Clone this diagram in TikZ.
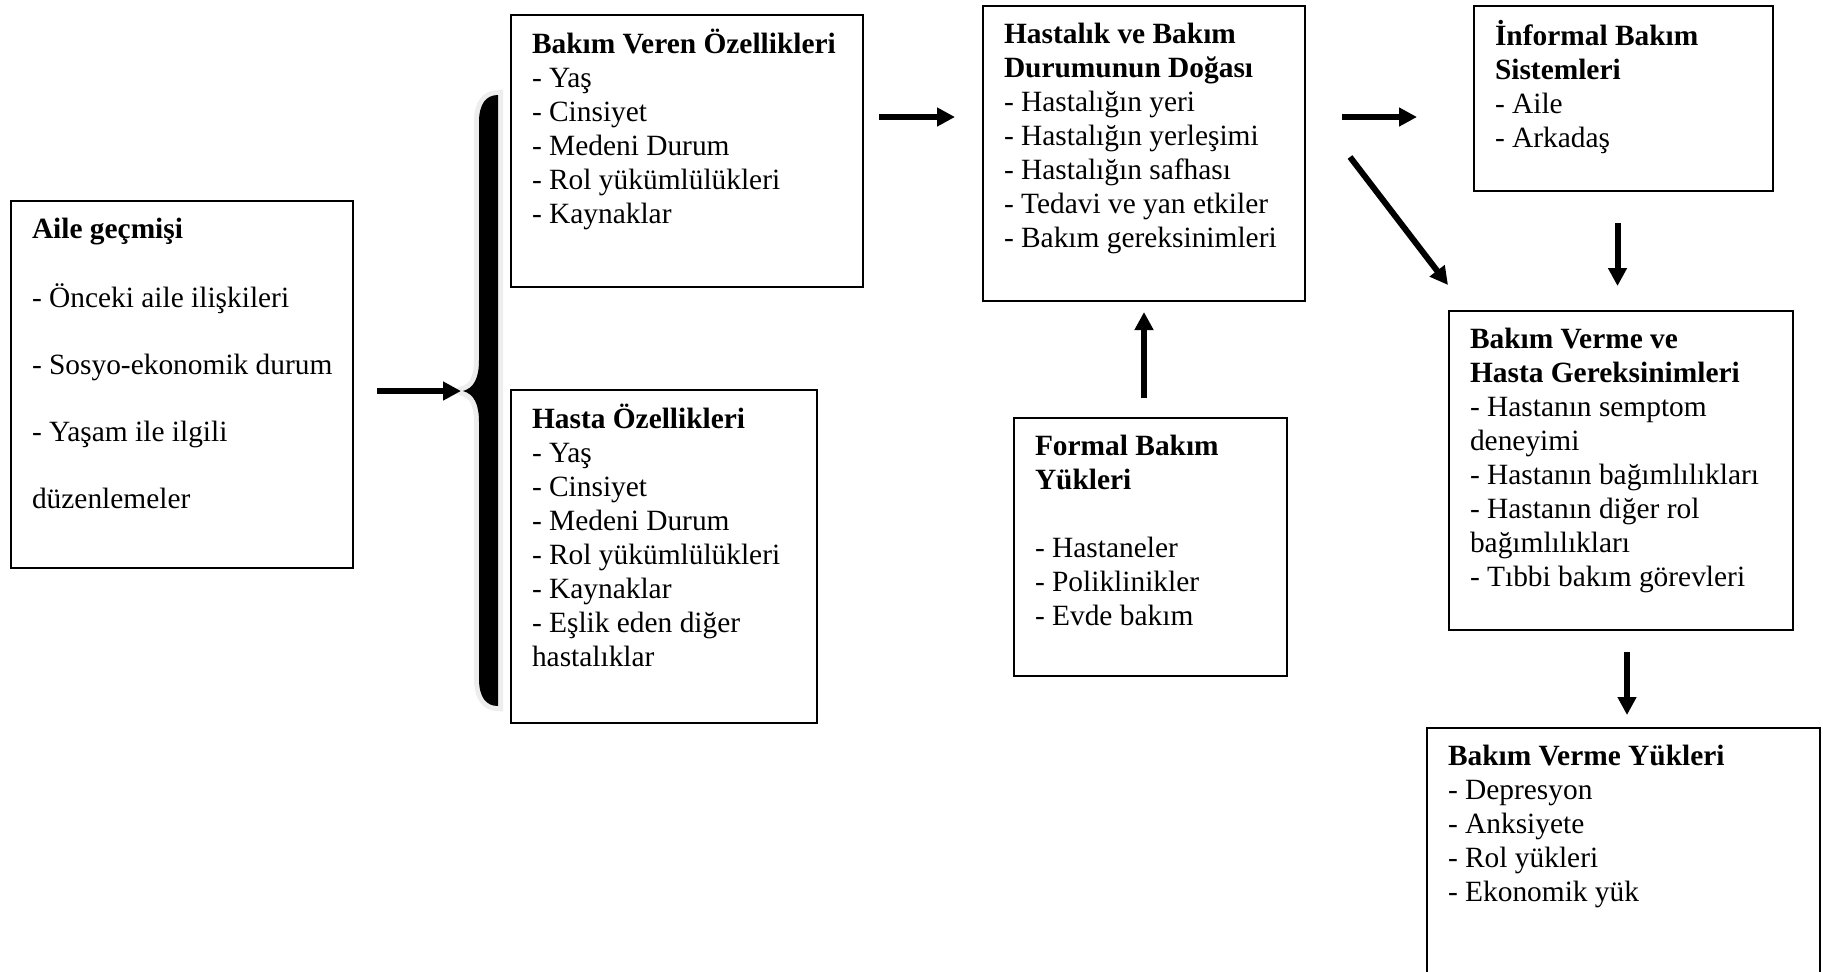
\documentclass[tikz,border=0pt]{standalone}
\usepackage{fontspec}
\setmainfont{Liberation Serif}
\usetikzlibrary{arrows.meta}
\newcommand{\metin}{\fontsize{14.7pt}{17pt}\selectfont}
\newcommand{\kutuyazi}[3]{\parbox[c][#2][t]{#1}{\raggedright\leftskip=6.5pt\strut#3}}
\begin{document}
\begin{tikzpicture}[x=0.5pt,y=-0.5pt]
	% bicimler
	\tikzstyle{kutu} = [draw, line width=1pt, rectangle, anchor=north west, outer sep=0pt, inner xsep=4pt, inner ysep=7pt, font=\metin]
	\tikzstyle{ok} = [-{Triangle[length=9pt,width=9pt]}, line width=3pt]
	\useasboundingbox (0,0) rectangle (1823,971);
	\clip (0,0) rectangle (1823,971);
	% kutular
	\node [kutu] (aile) at (11,201)
	{\kutuyazi{163pt}{169.5pt}{\textbf{Aile geçmişi}\\[16.5pt]- Önceki aile ilişkileri\\[16.5pt]- Sosyo-ekonomik durum\\[16.5pt]- Yaşam ile ilgili\\[16.5pt]düzenlemeler}};
	\node [kutu] (veren) at (511,15)
	{\kutuyazi{168pt}{122pt}{\textbf{Bakım Veren Özellikleri}\\- Yaş\\- Cinsiyet\\- Medeni Durum\\- Rol yükümlülükleri\\- Kaynaklar}};
	\node [kutu] (hasta) at (511,390)
	{\kutuyazi{145pt}{152.5pt}{\textbf{Hasta Özellikleri}\\- Yaş\\- Cinsiyet\\- Medeni Durum\\- Rol yükümlülükleri\\- Kaynaklar\\- Eşlik eden diğer\\hastalıklar}};
	\node [kutu] (doga) at (983,6)
	{\kutuyazi{153pt}{133.5pt}{\textbf{Hastalık ve Bakım\\Durumunun Doğası}\\- Hastalığın yeri\\- Hastalığın yerleşimi\\- Hastalığın safhası\\- Tedavi ve yan etkiler\\- Bakım gereksinimleri}};
	\node [kutu] (formal) at (1014,418)
	{\kutuyazi{128.5pt}{115pt}{\textbf{Formal Bakım\\Yükleri}\\[17pt]- Hastaneler\\- Poliklinikler\\- Evde bakım}};
	\node [kutu] (informal) at (1474,6)
	{\kutuyazi{141.5pt}{78.5pt}{\textbf{İnformal Bakım\\Sistemleri}\\- Aile\\- Arkadaş}};
	\node [kutu] (gerek) at (1449,311)
	{\kutuyazi{164pt}{145.5pt}{\textbf{Bakım Verme ve\\Hasta Gereksinimleri}\\- Hastanın semptom\\deneyimi\\- Hastanın bağımlılıkları\\- Hastanın diğer rol\\bağımlılıkları\\- Tıbbi bakım görevleri}};
	\node [kutu] (yukler) at (1427,728)
	{\kutuyazi{188.5pt}{136pt}{\textbf{Bakım Verme Yükleri}\\- Depresyon\\- Anksiyete\\- Rol yükleri\\- Ekonomik yük}};
	% parantez
	\fill [black, preaction={draw=black!7, line width=5pt}] (498,95) .. controls (486,95) and (479,104) .. (479,122) -- (479,360) .. controls (479,378) and (474,388) .. (463,391) .. controls (474,394) and (479,404) .. (479,422) -- (479,679) .. controls (479,697) and (486,706) .. (498,706) -- cycle;
	\coordinate (parantez) at (463,391);
	% oklar
	\draw [ok, shorten <=12pt, shorten >=1pt] ([yshift=-3.25pt]aile.east) -- (parantez);
	\draw [ok, shorten <=8pt, shorten >=14pt] ([yshift=17pt]veren.east) -- ([yshift=17pt]veren.east -| doga.west);
	\draw [ok, shorten <=18.5pt, shorten >=28.5pt] ([yshift=18.25pt]doga.east) -- ([yshift=18.25pt]doga.east -| informal.west);
	\draw [ok] ([xshift=22.5pt, yshift=-1.75pt]doga.east) -- ([xshift=-0.5pt, yshift=13pt]gerek.north west);
	\draw [ok, shorten <=10pt, shorten >=5.5pt] (doga.south |- formal.north) -- (doga.south);
	\draw [ok, shorten <=16pt, shorten >=12.5pt] ([xshift=-3pt]informal.south) -- ([xshift=-3pt]informal.south |- gerek.north);
	\draw [ok, shorten <=11pt, shorten >=6.5pt] ([xshift=3pt]gerek.south) -- ([xshift=3pt]gerek.south |- yukler.north);
\end{tikzpicture}
\end{document}
